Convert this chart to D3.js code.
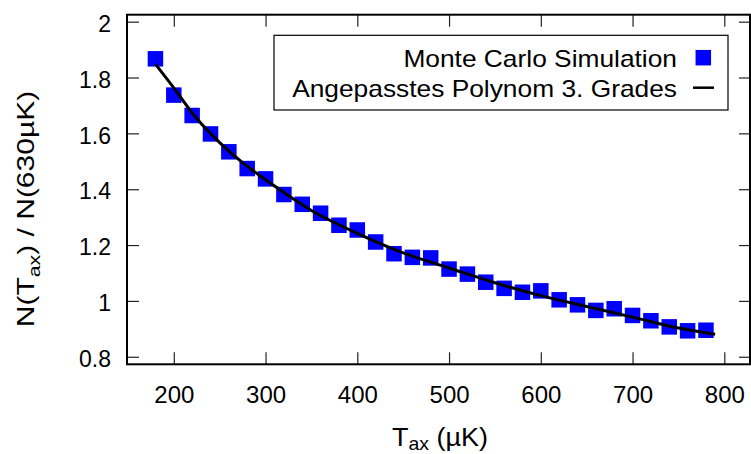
<!DOCTYPE html>
<html>
<head>
<meta charset="utf-8">
<script src="https://cdn.jsdelivr.net/npm/d3@7"></script>
<style>
  body { margin: 0; background: #fff; }
  svg { display: block; font-family: "Liberation Sans", Arial, sans-serif; }
</style>
</head>
<body>
<script>
// chart.js
const width = 751;
const height = 454;
const margin = {top: 14.7, right: 1, bottom: 89.7, left: 127};

// Monte Carlo points (T_ax in µK, normalised count)
const simT = [180, 200, 220, 240, 260, 280, 300, 320, 340, 360, 380, 400, 420, 440, 460, 480,
  500, 520, 540, 560, 580, 600, 620, 640, 660, 680, 700, 720, 740, 760, 780];
const simN = [1.867, 1.737, 1.664, 1.598, 1.534, 1.474, 1.437, 1.381, 1.346, 1.314, 1.271, 1.254,
  1.211, 1.169, 1.156, 1.154, 1.114, 1.096, 1.067, 1.045, 1.031, 1.036, 1.004, 0.986, 0.966,
  0.972, 0.948, 0.929, 0.907, 0.893, 0.895];

// fitted cubic
const fitT = [180, 200, 225, 250, 275, 300, 350, 400, 450, 500, 550, 600, 650, 700, 750, 790];
const fitN = [1.848, 1.763, 1.653, 1.567, 1.495, 1.434, 1.324, 1.242, 1.172, 1.118, 1.065,
  1.019, 0.980, 0.942, 0.903, 0.881];

const xTicks = [200, 300, 400, 500, 600, 700, 800];
const yTicks = [0.8, 1, 1.2, 1.4, 1.6, 1.8, 2];
const legendLabels = ['Monte Carlo Simulation', 'Angepasstes Polynom 3. Grades'];

const x = d3.scaleLinear()
  .domain([149, 828])
  .range([margin.left, width - margin.right]);

const y = d3.scaleLinear()
  .domain([0.773, 2.025])
  .range([height - margin.bottom, margin.top]);

const svg = d3.select('body').append('svg')
  .attr('width', width)
  .attr('height', height);

const fmt = d => d3.format('~g')(d);

const styleTicks = g => {
  g.select('.domain').remove();
  g.selectAll('.tick line').attr('stroke', '#222').attr('stroke-width', 1.2);
};

// bottom axis
svg.append('g')
  .attr('transform', `translate(0,${y.range()[0]})`)
  .call(d3.axisBottom(x).tickValues(xTicks).tickFormat(fmt).tickSize(-12).tickPadding(22))
  .call(styleTicks)
  .call(g => g.selectAll('text').attr('font-size', 24).attr('fill', '#000')
    .attr('font-family', '"Liberation Sans", Arial, sans-serif'));

// top axis (ticks only)
svg.append('g')
  .attr('transform', `translate(0,${margin.top})`)
  .call(d3.axisTop(x).tickValues(xTicks).tickFormat('').tickSize(-12))
  .call(styleTicks);

// left axis
svg.append('g')
  .attr('transform', `translate(${margin.left},0)`)
  .call(d3.axisLeft(y).tickValues(yTicks).tickFormat(fmt).tickSize(-12).tickPadding(16))
  .call(styleTicks)
  .call(g => g.selectAll('text').attr('font-size', 23).attr('dy', '0.42em').attr('fill', '#000')
    .attr('font-family', '"Liberation Sans", Arial, sans-serif'));

// right axis (ticks only)
svg.append('g')
  .attr('transform', `translate(${x.range()[1]},0)`)
  .call(d3.axisRight(y).tickValues(yTicks).tickFormat('').tickSize(-11))
  .call(styleTicks);

// frame
svg.append('rect')
  .attr('x', x.range()[0])
  .attr('y', y.range()[1])
  .attr('width', x.range()[1] - x.range()[0])
  .attr('height', y.range()[0] - y.range()[1])
  .attr('fill', 'none')
  .attr('stroke', '#000')
  .attr('stroke-width', 2);

// fit curve
const fitData = fitT.map((t, i) => ({t: t, n: fitN[i]}));
const line = d3.line()
  .x(d => x(d.t))
  .y(d => y(d.n))
  .curve(d3.curveCatmullRom);

// squares
const sq = 15.5;
svg.append('g')
  .selectAll('rect')
  .data(simT.map((t, i) => ({t: t, n: simN[i]})))
  .join('rect')
  .attr('x', d => x(d.t) - sq / 2)
  .attr('y', d => y(d.n) - sq / 2)
  .attr('width', sq)
  .attr('height', sq)
  .attr('fill', '#0000ff');

svg.append('path')
  .datum(fitData)
  .attr('fill', 'none')
  .attr('stroke', '#000')
  .attr('stroke-width', 3)
  .attr('stroke-linejoin', 'round')
  .attr('d', line);

// legend
const lg = svg.append('g');
lg.append('rect')
  .attr('x', 274).attr('y', 35.3)
  .attr('width', 454).attr('height', 74.7)
  .attr('fill', '#fff')
  .attr('stroke', '#000')
  .attr('stroke-width', 1.2);

lg.selectAll('text')
  .data(legendLabels)
  .join('text')
  .attr('transform', (d, i) => `translate(677,${66.5 + i * 30}) scale(1.097,1)`)
  .attr('text-anchor', 'end')
  .attr('font-size', 24)
  .text(d => d);

lg.append('rect')
  .attr('x', 703.3 - sq / 2).attr('y', 57.7 - sq / 2)
  .attr('width', sq).attr('height', sq)
  .attr('fill', '#0000ff');

lg.append('line')
  .attr('x1', 693).attr('x2', 714)
  .attr('y1', 87.7).attr('y2', 87.7)
  .attr('stroke', '#000')
  .attr('stroke-width', 2.5);

// axis titles
const xt = svg.append('text')
  .attr('transform', 'translate(440,446) scale(1.08,1)')
  .attr('text-anchor', 'middle')
  .attr('font-size', 25);
xt.append('tspan').text('T');
xt.append('tspan').attr('font-size', 18).attr('dy', 4).text('ax');
xt.append('tspan').attr('dy', -4).text(' (µK)');

const yt = svg.append('text')
  .attr('transform', 'translate(34,209) rotate(-90) scale(1.25,1)')
  .attr('text-anchor', 'middle')
  .attr('font-size', 24);
yt.append('tspan').text('N(T');
yt.append('tspan').attr('font-size', 17).attr('dy', 6).text('ax');
yt.append('tspan').attr('dy', -6).text(') / N(630µK)');
</script>
</body>
</html>
